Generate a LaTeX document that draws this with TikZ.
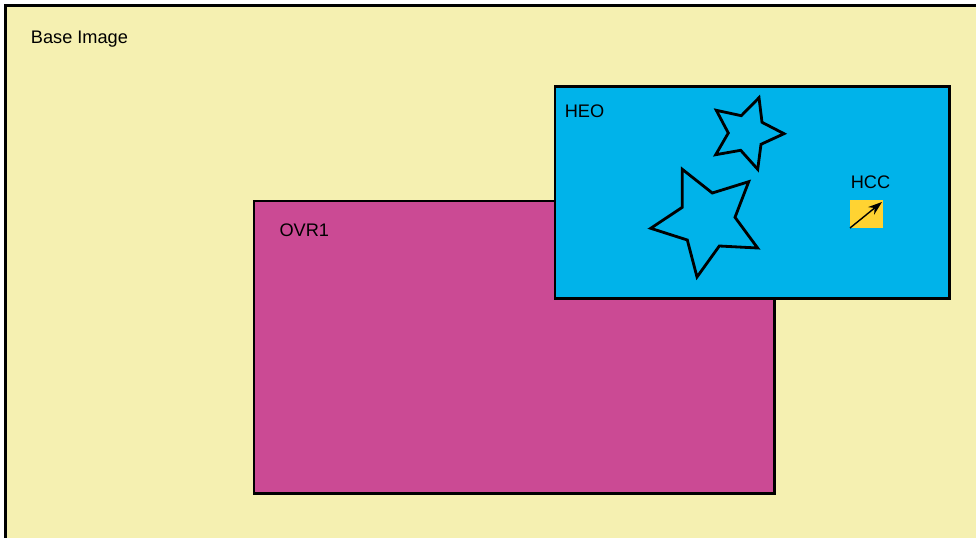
\documentclass[tikz,border=0pt]{standalone}
\usepackage{fontspec}
\setmainfont{Liberation Sans}
\usepackage{xcolor}
\usetikzlibrary{arrows.meta}
\definecolor{basec}{HTML}{F5F0B1}
\definecolor{ovrc}{HTML}{CB4A94}
\definecolor{heoc}{HTML}{00B3EA}
\definecolor{hccc}{HTML}{FFD332}
\tikzset{
  layer/.style={draw=black, line width=1.6pt, line join=miter},
  star/.style={draw=black, line width=1.6pt, line join=miter},
  label/.style={anchor=base west, inner sep=0pt, font=\fontsize{10.35pt}{12pt}\selectfont},
}

\begin{document}
\begin{tikzpicture}[x=0.02cm,y=-0.02cm]
\useasboundingbox (0,0) rectangle (976,537);
\fill[white] (0,0) rectangle (976,537);
\begin{scope}
\clip (0,0) rectangle (976,537);
\draw[layer, fill=basec] (5.5,5.5) rectangle (990,539.4);
\end{scope}
\draw[layer, fill=ovrc] (254,201) rectangle (774.8,493.8);
\draw[layer, fill=heoc] (555,86.3) rectangle (949.6,298.5);
\draw[star] (759,97.7) -- (762,122.3) -- (784,133.7) -- (761,144.3) -- (757.7,169.3) -- (740.7,150.3) -- (715.7,154.7) -- (728.3,133) -- (716.3,110.3) -- (741.3,115.7) -- cycle;
\draw[star] (682.3,169.3) -- (712.3,193) -- (748.7,181.7) -- (735,217.3) -- (757.6,248) -- (719.3,246) -- (697,277) -- (687.3,240) -- (650.7,228.3) -- (682.3,207.3) -- cycle;
\fill[hccc] (850,200) rectangle (883,228);
\coordinate (cursortail) at (850,228);
\coordinate (cursortip) at (882,202);
\draw[-{Stealth[length=8pt,width=5.5pt]}, line width=0.8pt] (cursortail) -- (cursortip);
\node[label] (baselabel) at (30.6,43.6) {Base Image};
\node[label] (ovrlabel) at (279.2,236) {OVR1};
\node[label] (heolabel) at (564.5,117) {HEO};
\node[label] (hcclabel) at (850.5,188) {HCC};
\end{tikzpicture}
\end{document}
